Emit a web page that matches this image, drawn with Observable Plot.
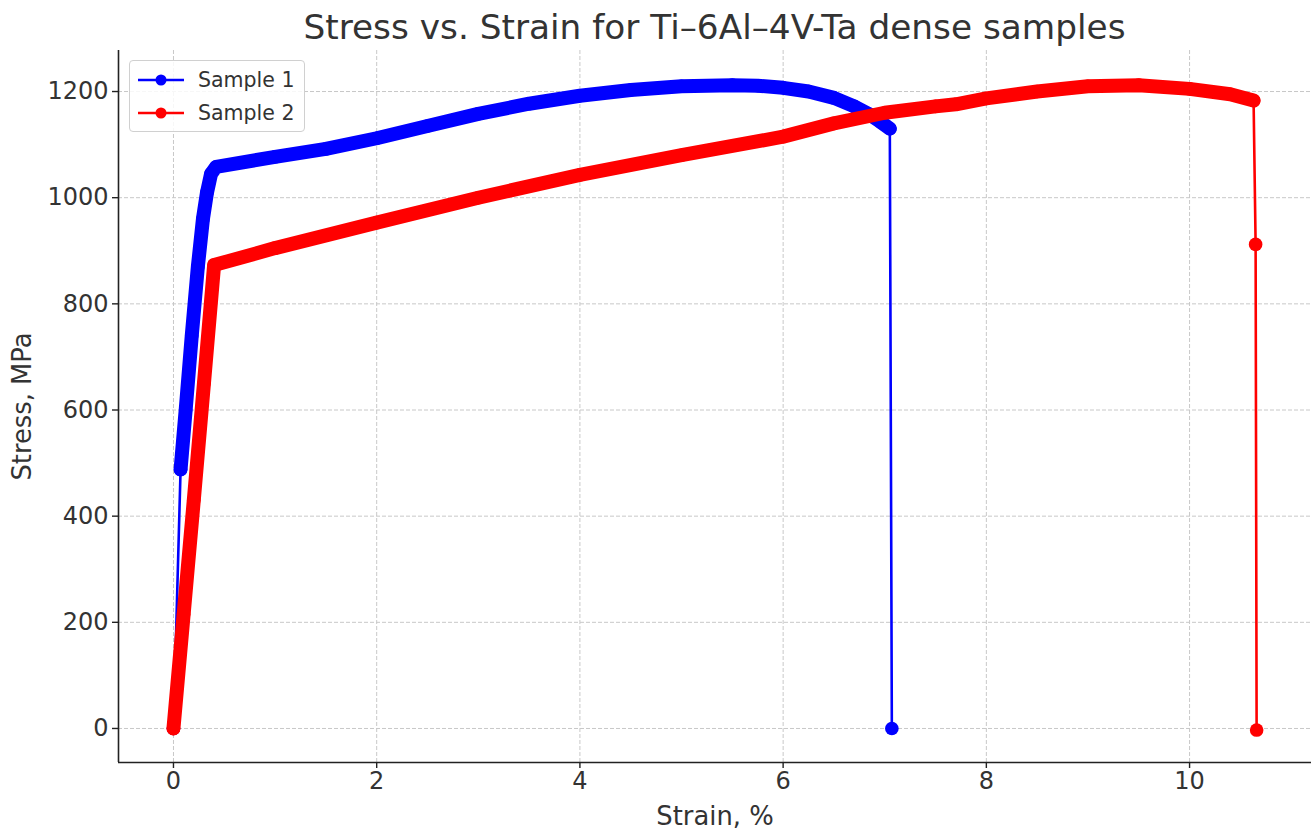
<!DOCTYPE html>
<html>
<head>
<meta charset="utf-8">
<script src="https://cdn.jsdelivr.net/npm/d3@7"></script>
<script src="https://cdn.jsdelivr.net/npm/@observablehq/plot@0.6"></script>
<style>
  html, body { margin: 0; padding: 0; background: #fff; }
  #wrap { position: relative; width: 1316px; height: 828px; font-family: "DejaVu Sans", sans-serif; color: #333; }
  #chart { position: absolute; left: 0; top: 40px; }
  #title { position: absolute; left: 118px; width: 1193px; top: 7px; text-align: center; font-size: 34.3px; line-height: 40px; color: #333; white-space: nowrap; z-index: 2; }
  #legend { position: absolute; left: 129px; top: 60px; width: 176px; height: 72px; border: 1px solid #d0d0d0; border-radius: 4px; background: rgba(255,255,255,0.85); box-sizing: border-box; z-index: 2; }
  .row { position: absolute; left: 0; height: 30px; width: 176px; }
  .row svg { position: absolute; left: 7px; top: 0; }
  .row span { position: absolute; left: 68px; top: 2px; font-size: 20.5px; line-height: 26px; color: #333; }
</style>
</head>
<body>
<div id="wrap">
  <div id="chart"></div>
  <div id="title">Stress vs. Strain for Ti–6Al–4V-Ta dense samples</div>
  <div id="legend"></div>
</div>
<script>
// ---- data ----
const seriesNames = ["Sample 1", "Sample 2"];
const seriesColors = ["#0000ff", "#ff0000"];

const sample1Strain = [0, 0.07, 0.12, 0.18, 0.24, 0.29, 0.33, 0.37, 0.42, 1.0, 1.5, 2.0, 2.5, 3.0, 3.5, 4.0, 4.5, 5.0, 5.5, 5.75, 6.0, 6.25, 6.5, 6.7, 6.85, 6.95, 7.05, 7.07];
const sample1Stress = [0, 488, 600, 740, 870, 960, 1010, 1045, 1058, 1077, 1092, 1112, 1135, 1158, 1177, 1192, 1203, 1210, 1212, 1211, 1207, 1200, 1188, 1172, 1157, 1144, 1130, 0];

const sample2Strain = [0, 0.1, 0.2, 0.3, 0.4, 1.0, 2.0, 3.0, 4.0, 5.0, 6.0, 6.5, 7.0, 7.5, 7.7, 8.0, 8.5, 9.0, 9.5, 10.0, 10.4, 10.63, 10.65, 10.66];
const sample2Stress = [0, 215, 430, 650, 873, 905, 953, 1000, 1043, 1080, 1115, 1140, 1160, 1172, 1176, 1187, 1200, 1210, 1212, 1205, 1195, 1183, 912, -3];

// dense (heavily sampled) stretch of each curve: [first index, last index]
const sample1Dense = [1, 26];
const sample2Dense = [0, 21];

const xTicks = [0, 2, 4, 6, 8, 10];
const yTicks = [0, 200, 400, 600, 800, 1000, 1200];
const xLabel = "Strain, %";
const yLabel = "Stress, MPa";

// ---- build ----
const xDomain = [-0.541, 11.2];
const yDomain = [-64.1, 1277.3];

function rows(strain, stress, name) {
  return strain.map((x, i) => ({strain: x, stress: stress[i], name, i}));
}
const s1 = rows(sample1Strain, sample1Stress, seriesNames[0]);
const s2 = rows(sample2Strain, sample2Stress, seriesNames[1]);
const dense1 = s1.filter(d => d.i >= sample1Dense[0] && d.i <= sample1Dense[1]);
const dense2 = s2.filter(d => d.i >= sample2Dense[0] && d.i <= sample2Dense[1]);

function seriesMarks(all, dense, color) {
  return [
    Plot.line(all, {x: "strain", y: "stress", stroke: color, strokeWidth: 2.6}),
    Plot.line(dense, {x: "strain", y: "stress", stroke: color, strokeWidth: 14, strokeLinecap: "round", strokeLinejoin: "round"}),
    Plot.dot(all, {x: "strain", y: "stress", fill: color, r: 6.8, stroke: "none"})
  ];
}

const chart = Plot.plot({
  width: 1316,
  height: 788,
  marginLeft: 118,
  marginRight: 5,
  marginTop: 10,
  marginBottom: 66,
  style: {fontFamily: "DejaVu Sans, sans-serif", fontSize: "24px", color: "#333", background: "transparent", overflow: "visible"},
  x: {domain: xDomain},
  y: {domain: yDomain},
  marks: [
    Plot.gridX(xTicks, {stroke: "#c8c8c8", strokeOpacity: 1, strokeWidth: 1, strokeDasharray: "4,2"}),
    Plot.gridY(yTicks, {stroke: "#c8c8c8", strokeOpacity: 1, strokeWidth: 1, strokeDasharray: "4,2"}),
    ...seriesMarks(s1, dense1, seriesColors[0]),
    ...seriesMarks(s2, dense2, seriesColors[1]),
    Plot.ruleX([xDomain[0]], {stroke: "#222", strokeWidth: 1.6}),
    Plot.ruleY([yDomain[0]], {stroke: "#222", strokeWidth: 1.6}),
    Plot.axisX(xTicks, {tickSize: 6, tickPadding: 3, label: null, tickFormat: d => String(d), stroke: "#222", strokeWidth: 1.4, fill: "#333"}),
    Plot.axisY(yTicks, {tickSize: 6, tickPadding: 4, label: null, tickFormat: d => String(d), stroke: "#222", strokeWidth: 1.4, fill: "#333"}),
    Plot.text([xLabel], {frameAnchor: "bottom", dy: 62, fontSize: 25.8, fill: "#333"}),
    Plot.text([yLabel], {frameAnchor: "left", dx: -96, rotate: -90, textAnchor: "middle", fontSize: 25.8, fill: "#333"})
  ]
});
document.getElementById("chart").appendChild(chart);

// legend
const legend = document.getElementById("legend");
seriesNames.forEach((name, k) => {
  const row = document.createElement("div");
  row.className = "row";
  row.style.top = (k === 0 ? 4 : 37) + "px";
  row.innerHTML = `<svg width="50" height="30"><line x1="1" x2="47" y1="15" y2="15" stroke="${seriesColors[k]}" stroke-width="2.6"/><circle cx="24" cy="15" r="5.5" fill="${seriesColors[k]}"/></svg><span>${name}</span>`;
  legend.appendChild(row);
});
</script>
</body>
</html>
